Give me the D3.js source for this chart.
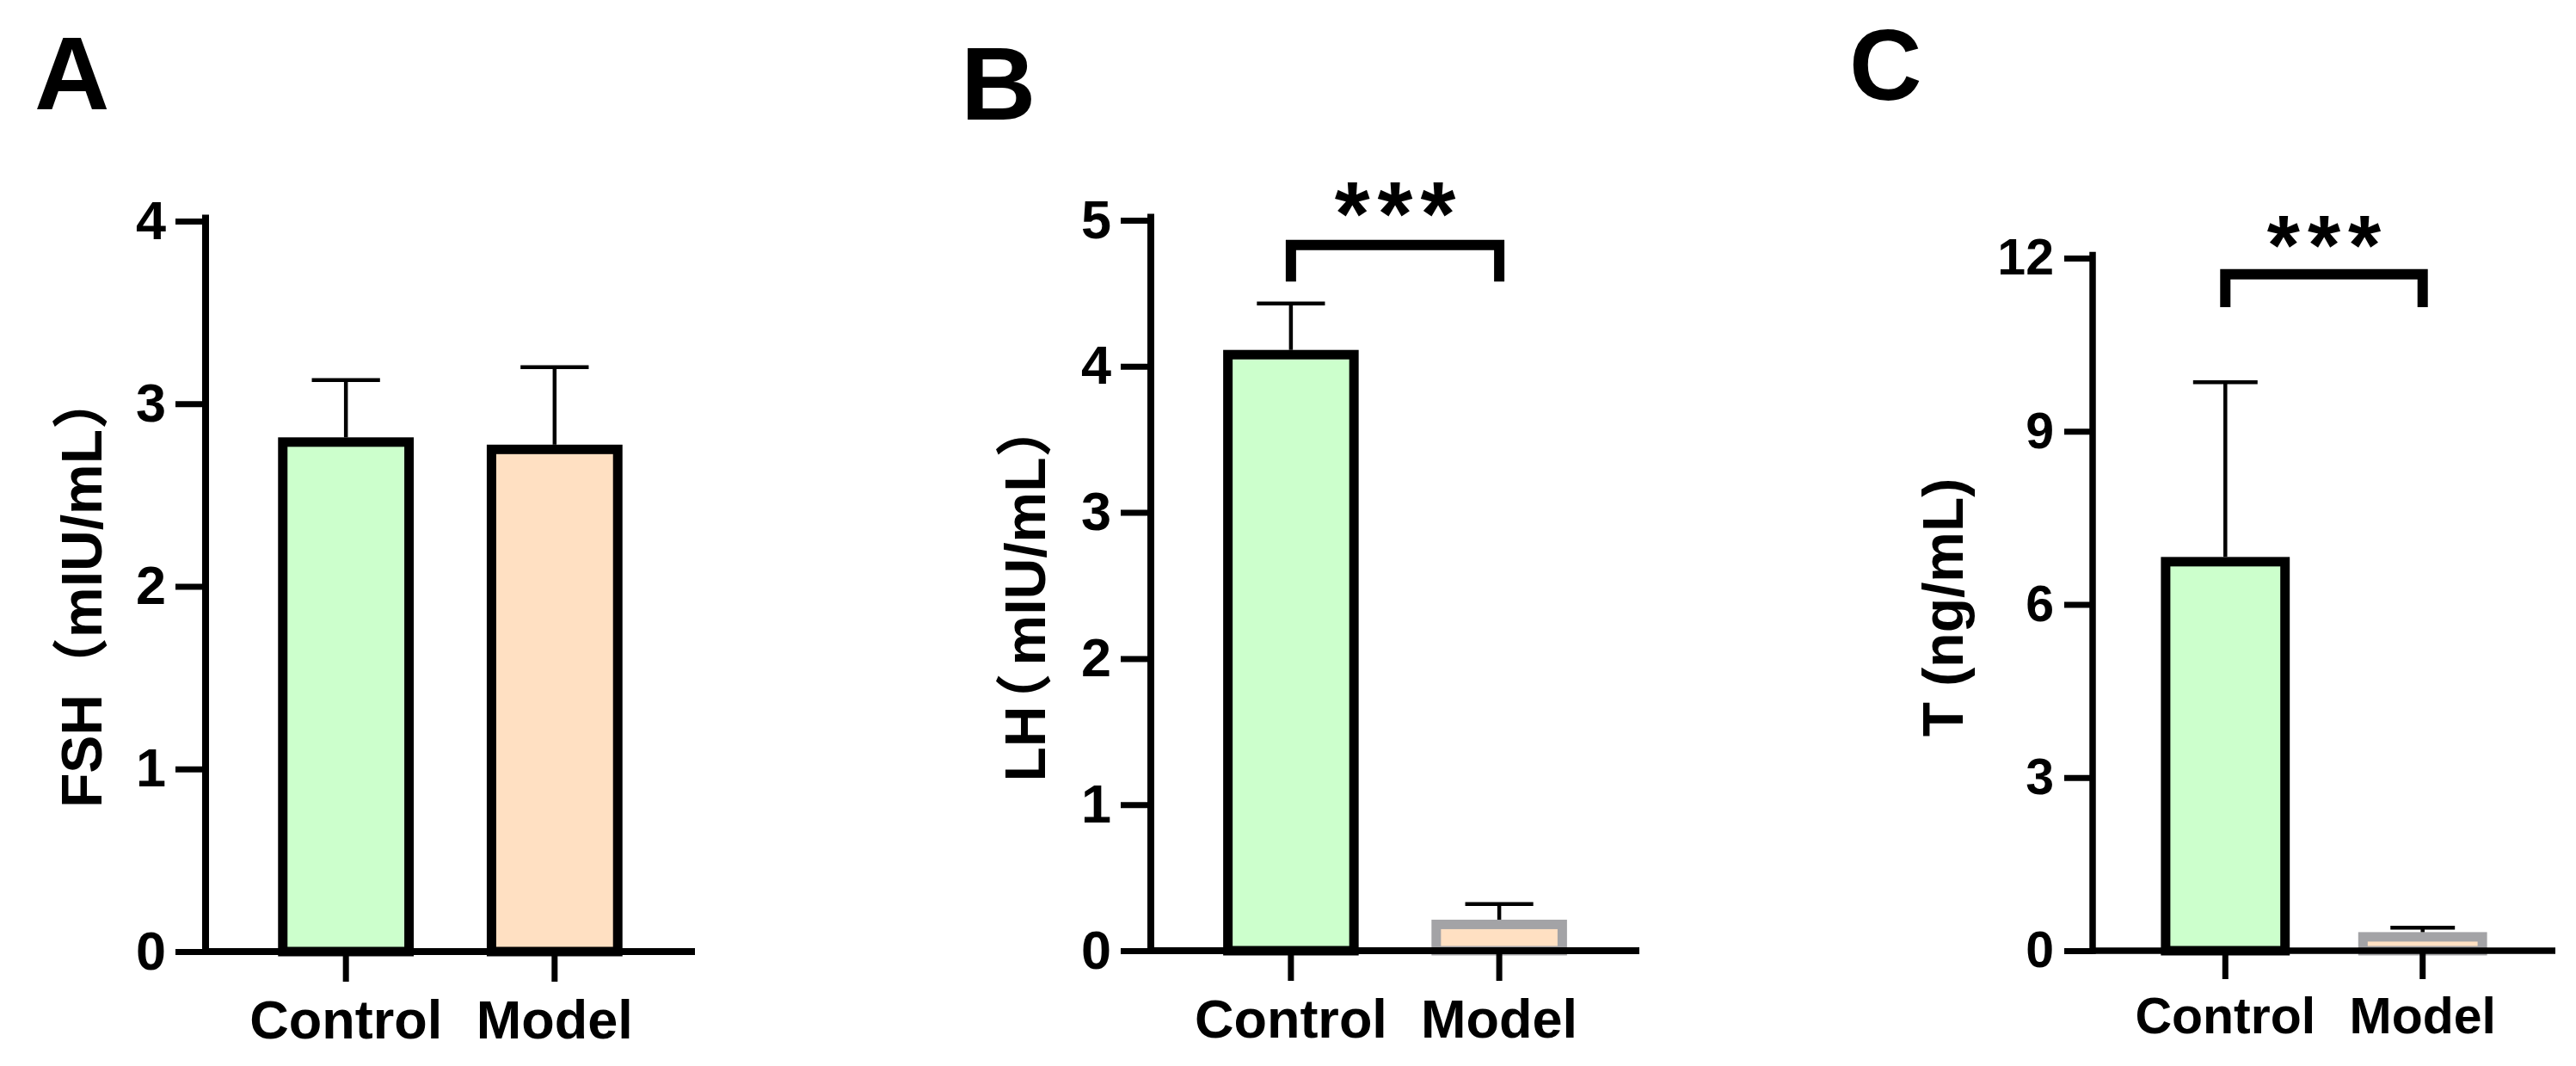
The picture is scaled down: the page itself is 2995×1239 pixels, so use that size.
<!DOCTYPE html>
<html>
<head>
<meta charset="utf-8">
<script src="https://cdn.jsdelivr.net/npm/d3@7"></script>
<style>
  html, body { margin: 0; padding: 0; background: #fff; }
  svg { display: block; }
  text { font-family: "Liberation Sans", Arial, "Noto Sans CJK SC", sans-serif; font-weight: bold; fill: #000; }
</style>
</head>
<body>
<svg id="chart" width="2995" height="1239"></svg>
<script>
// ---------------- data ----------------
const categories = ["Control", "Model"];

const fshMean = [2.79, 2.75];
const fshSD   = [0.34, 0.45];
const fshTicks = [0, 1, 2, 3, 4];

const lhMean = [4.08, 0.18];
const lhSD   = [0.35, 0.14];
const lhTicks = [0, 1, 2, 3, 4, 5];

const tMean = [6.74, 0.24];
const tSD   = [3.11, 0.16];
const tTicks = [0, 3, 6, 9, 12];

const panelLetters = ["A", "B", "C"];
const yTitles = ["FSH（mIU/mL）", "LH（mIU/mL）", "T (ng/mL)"];
const sigLabels = [null, "***", "***"];
// bracket levels in data units: [bar level, leg-bottom level]
const sigLevels = [null, [4.83, 4.58], [11.72, 11.15]];

const fillColors = ["#CCFFCC", "#FFE0C2"];

// ---------------- layout ----------------
const panels = [
  { mean: fshMean, sd: fshSD, ticks: fshTicks, letter: panelLetters[0], title: yTitles[0], sig: sigLabels[0], sigLv: sigLevels[0],
    x0: 239, x1: 808, yTop: 257, yBot: 1106, font: 63, tick: 35, pad: 11,
    titleX: 118, titleY: 686, titleSize: 66, parenKern: 0, letterX: 40, letterY: 127, letterSize: 121,
    modelStroke: "#000", starSize: 105, axisW: 8 },
  { mean: lhMean, sd: lhSD, ticks: lhTicks, letter: panelLetters[1], title: yTitles[1], sig: sigLabels[1], sigLv: sigLevels[1],
    x0: 1338, x1: 1906, yTop: 256, yBot: 1105, font: 63, tick: 35, pad: 11,
    titleX: 1215, titleY: 687, titleSize: 66, parenKern: -28, letterX: 1117, letterY: 139, letterSize: 121,
    modelStroke: "#A3A3A6", starSize: 105, axisW: 8 },
  { mean: tMean, sd: tSD, ticks: tTicks, letter: panelLetters[2], title: yTitles[2], sig: sigLabels[2], sigLv: sigLevels[2],
    x0: 2433, x1: 2971, yTop: 300, yBot: 1105, font: 59, tick: 33, pad: 12,
    titleX: 2282, titleY: 706, titleSize: 66, parenKern: 0, letterX: 2150, letterY: 116, letterSize: 117,
    modelStroke: "#A3A3A6", starSize: 98, axisW: 7.5 }
];

const svg = d3.select("#chart");

panels.forEach(p => {
  const g = svg.append("g");
  const yMax = p.ticks[p.ticks.length - 1];
  const y = d3.scaleLinear().domain([0, yMax]).range([p.yBot, p.yTop]);
  const x = d3.scaleBand().domain(categories).range([p.x0, p.x1])
              .paddingInner(0.395).paddingOuter(0.37);
  const bw = x.bandwidth();

  // bars
  g.selectAll("rect.bar").data(categories).join("rect")
    .attr("class", "bar")
    .attr("x", d => x(d))
    .attr("width", bw)
    .attr("y", (d, i) => y(p.mean[i]))
    .attr("height", (d, i) => p.yBot - y(p.mean[i]))
    .attr("fill", (d, i) => fillColors[i])
    .attr("stroke", (d, i) => i === 0 ? "#000" : p.modelStroke)
    .attr("stroke-width", 11);

  // error bars (upper only)
  const capW = bw * 0.54;
  categories.forEach((c, i) => {
    const cx = x(c) + bw / 2;
    const top = y(p.mean[i] + p.sd[i]);
    g.append("line").attr("x1", cx).attr("x2", cx)
      .attr("y1", y(p.mean[i]) - 5.5).attr("y2", top)
      .attr("stroke", "#000").attr("stroke-width", 4.5);
    g.append("line").attr("x1", cx - capW / 2).attr("x2", cx + capW / 2)
      .attr("y1", top).attr("y2", top)
      .attr("stroke", "#000").attr("stroke-width", 4.5);
  });

  // y axis
  const yAxis = d3.axisLeft(y).tickValues(p.ticks).tickSize(p.tick).tickSizeOuter(0)
                  .tickPadding(p.pad).tickFormat(d3.format("d"));
  const ga = g.append("g").attr("transform", `translate(${p.x0},0)`).call(yAxis);
  ga.select(".domain").attr("stroke-width", p.axisW).attr("stroke-linecap", "square")
    .attr("d", `M0,${p.yTop - 3.5}V${p.yBot}`);
  ga.selectAll(".tick line").attr("stroke-width", 7);
  ga.selectAll(".tick text").attr("font-size", p.font)
    .attr("font-family", "'Liberation Sans', Arial, sans-serif").attr("font-weight", "bold");

  // x axis
  const xAxis = d3.axisBottom(x).tickSize(p.tick).tickSizeOuter(0).tickPadding(21);
  const gx = g.append("g").attr("transform", `translate(0,${p.yBot})`).call(xAxis);
  gx.select(".domain").attr("stroke-width", p.axisW)
    .attr("d", `M${p.x0},0H${p.x1}`);
  gx.selectAll(".tick line").attr("stroke-width", 7);
  gx.selectAll(".tick text").attr("font-size", p.font)
    .attr("font-family", "'Liberation Sans', Arial, sans-serif").attr("font-weight", "bold");

  // y title (with optional kerning before the full-width parenthesis)
  const tt = g.append("text")
    .attr("transform", `translate(${p.titleX},${p.titleY}) rotate(-90)`)
    .attr("text-anchor", "middle")
    .attr("font-size", p.titleSize);
  const k = p.title.indexOf("（");
  if (k > 0 && p.parenKern) {
    tt.append("tspan").text(p.title.slice(0, k));
    tt.append("tspan").attr("dx", p.parenKern).text("（");
    tt.append("tspan").attr("dx", 9).text(p.title.slice(k + 1));
  } else {
    tt.text(p.title);
  }

  // panel letter
  g.append("text").attr("x", p.letterX).attr("y", p.letterY)
    .attr("font-size", p.letterSize).text(p.letter);

  // significance bracket
  if (p.sig) {
    const cx0 = x(categories[0]) + bw / 2;
    const cx1 = x(categories[1]) + bw / 2;
    const yb = y(p.sigLv[0]);
    const yl = y(p.sigLv[1]);
    g.append("path")
      .attr("d", `M${cx0},${yl}V${yb}H${cx1}V${yl}`)
      .attr("fill", "none").attr("stroke", "#000").attr("stroke-width", 12)
      .attr("stroke-linejoin", "miter");
    g.append("text")
      .attr("x", (cx0 + cx1) / 2)
      .attr("y", yb)
      .attr("text-anchor", "middle")
      .attr("font-size", p.starSize)
      .attr("letter-spacing", 9)
      .attr("dx", 4.5)
      .text(p.sig);
  }
});
</script>
</body>
</html>
